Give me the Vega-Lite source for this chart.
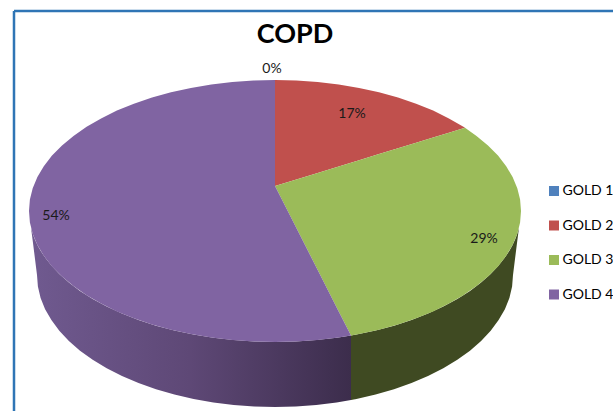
{"$schema":"https://vega.github.io/schema/vega-lite/v6.json","width":613,"height":411,"padding":0,"autosize":{"type":"none"},"background":"#ffffff","view":{"stroke":null},
"title":{"text":"COPD","font":"Lato","fontSize":27,"fontWeight":"bold","color":"#000000","anchor":"middle","frame":"group","offset":0,"baseline":"alphabetic","dy":69.5,"dx":-11.5},
"datasets":{
"frame":[{"x":14,"x2":14,"y":11,"y2":411},{"x":14,"x2":613,"y":11,"y2":11}],
"wallPurple":[{"x":29,"y":211,"y2":211},{"x":31,"y":227.7,"y2":227.7},{"x":33,"y":234.5,"y2":243},{"x":35,"y":239.8,"y2":259},{"x":37,"y":244.1,"y2":275},{"x":37.9,"y":245.9,"y2":286.5},{"x":40.6,"y":250.8,"y2":297.9},{"x":45.1,"y":257.6,"y2":309.2},{"x":51.4,"y":265.5,"y2":320.1},{"x":59.3,"y":274,"y2":330.8},{"x":68.9,"y":282.5,"y2":341},{"x":80,"y":290.9,"y2":350.7},{"x":92.7,"y":298.9,"y2":359.8},{"x":106.7,"y":306.5,"y2":368.3},{"x":122,"y":313.6,"y2":376.1},{"x":138.5,"y":320,"y2":383.1},{"x":156,"y":325.7,"y2":389.3},{"x":174.4,"y":330.5,"y2":394.6},{"x":193.6,"y":334.6,"y2":399},{"x":213.4,"y":337.8,"y2":402.5},{"x":233.7,"y":340.1,"y2":405},{"x":254.2,"y":341.5,"y2":406.5},{"x":275,"y":342,"y2":407},{"x":295.8,"y":341.5,"y2":406.5},{"x":316.3,"y":340.1,"y2":405},{"x":336.6,"y":337.8,"y2":402.5},{"x":351,"y":335.6,"y2":400.1}],
"wallGreen":[{"x":351,"y":335.6,"y2":400.1},{"x":356.4,"y":334.6,"y2":399},{"x":375.6,"y":330.5,"y2":394.6},{"x":394,"y":325.7,"y2":389.3},{"x":411.5,"y":320,"y2":383.1},{"x":428,"y":313.6,"y2":376.1},{"x":443.3,"y":306.5,"y2":368.3},{"x":457.3,"y":298.9,"y2":359.8},{"x":470,"y":290.9,"y2":350.7},{"x":481.1,"y":282.5,"y2":341},{"x":490.7,"y":274,"y2":330.8},{"x":498.6,"y":265.5,"y2":320.1},{"x":504.9,"y":257.6,"y2":309.2},{"x":509.4,"y":250.8,"y2":297.9},{"x":512.1,"y":245.9,"y2":286.5},{"x":513,"y":244.1,"y2":275},{"x":515,"y":239.8,"y2":259},{"x":517,"y":234.5,"y2":243},{"x":519,"y":227.7,"y2":227.7},{"x":521,"y":211,"y2":211}],
"slices":[
{"group":"GOLD 1","x":275,"y":80,"y2":80},
{"group":"GOLD 2","x":275,"y":80,"y2":186},{"group":"GOLD 2","x":296.4,"y":80.5,"y2":179.4},{"group":"GOLD 2","x":317.7,"y":82,"y2":172.9},{"group":"GOLD 2","x":338.7,"y":84.5,"y2":166.5},{"group":"GOLD 2","x":359.1,"y":87.9,"y2":160.2},{"group":"GOLD 2","x":379,"y":92.3,"y2":154.1},{"group":"GOLD 2","x":398,"y":97.6,"y2":148.3},{"group":"GOLD 2","x":416.1,"y":103.7,"y2":142.8},{"group":"GOLD 2","x":433.1,"y":110.6,"y2":137.6},{"group":"GOLD 2","x":448.9,"y":118.4,"y2":132.7},{"group":"GOLD 2","x":463.4,"y":126.8,"y2":128.3},{"group":"GOLD 2","x":465,"y":127.8,"y2":127.8},
{"group":"GOLD 3","x":275,"y":186,"y2":186},{"group":"GOLD 3","x":296.4,"y":179.4,"y2":228.1},{"group":"GOLD 3","x":317.7,"y":172.9,"y2":270},{"group":"GOLD 3","x":338.7,"y":166.5,"y2":311.4},{"group":"GOLD 3","x":351,"y":162.7,"y2":335.6},{"group":"GOLD 3","x":359.1,"y":160.2,"y2":334.1},{"group":"GOLD 3","x":379,"y":154.1,"y2":329.7},{"group":"GOLD 3","x":398,"y":148.3,"y2":324.4},{"group":"GOLD 3","x":416.1,"y":142.8,"y2":318.3},{"group":"GOLD 3","x":433.1,"y":137.6,"y2":311.4},{"group":"GOLD 3","x":448.9,"y":132.7,"y2":303.6},{"group":"GOLD 3","x":463.4,"y":128.3,"y2":295.2},{"group":"GOLD 3","x":465,"y":127.8,"y2":294},{"group":"GOLD 3","x":476.5,"y":135.9,"y2":286.1},{"group":"GOLD 3","x":488,"y":145.5,"y2":276.5},{"group":"GOLD 3","x":498,"y":155.6,"y2":266.4},{"group":"GOLD 3","x":506.2,"y":166.2,"y2":255.8},{"group":"GOLD 3","x":512.6,"y":177.1,"y2":244.9},{"group":"GOLD 3","x":517.3,"y":188.3,"y2":233.7},{"group":"GOLD 3","x":520.1,"y":199.6,"y2":222.4},{"group":"GOLD 3","x":521,"y":211,"y2":211},
{"group":"GOLD 4","x":29,"y":211,"y2":211},{"group":"GOLD 4","x":29.9,"y":199.6,"y2":222.4},{"group":"GOLD 4","x":32.7,"y":188.3,"y2":233.7},{"group":"GOLD 4","x":37.4,"y":177.1,"y2":244.9},{"group":"GOLD 4","x":43.8,"y":166.2,"y2":255.8},{"group":"GOLD 4","x":52,"y":155.6,"y2":266.4},{"group":"GOLD 4","x":62,"y":145.5,"y2":276.5},{"group":"GOLD 4","x":73.5,"y":135.9,"y2":286.1},{"group":"GOLD 4","x":86.6,"y":126.8,"y2":295.2},{"group":"GOLD 4","x":101.1,"y":118.4,"y2":303.6},{"group":"GOLD 4","x":116.9,"y":110.6,"y2":311.4},{"group":"GOLD 4","x":133.9,"y":103.7,"y2":318.3},{"group":"GOLD 4","x":152,"y":97.6,"y2":324.4},{"group":"GOLD 4","x":171,"y":92.3,"y2":329.7},{"group":"GOLD 4","x":190.9,"y":87.9,"y2":334.1},{"group":"GOLD 4","x":211.3,"y":84.5,"y2":337.5},{"group":"GOLD 4","x":232.3,"y":82,"y2":340},{"group":"GOLD 4","x":253.6,"y":80.5,"y2":341.5},{"group":"GOLD 4","x":275,"y":80,"y2":342},{"group":"GOLD 4","x":275.01,"y":186,"y2":342},{"group":"GOLD 4","x":296.4,"y":228.1,"y2":341.5},{"group":"GOLD 4","x":317.7,"y":270,"y2":340},{"group":"GOLD 4","x":338.7,"y":311.4,"y2":337.5},{"group":"GOLD 4","x":351,"y":335.6,"y2":335.6}],
"shares":[{"group":"GOLD 1","share":0,"x":272,"y":69},{"group":"GOLD 2","share":0.17,"x":352,"y":114},{"group":"GOLD 3","share":0.29,"x":484,"y":239},{"group":"GOLD 4","share":0.54,"x":56,"y":216}]
},
"encoding":{
"x":{"field":"x","type":"quantitative","scale":{"domain":[0,613],"nice":false,"zero":false},"axis":null},
"y":{"field":"y","type":"quantitative","scale":{"domain":[411,0],"nice":false,"zero":false},"axis":null,"stack":null}
},
"layer":[
{"data":{"name":"frame"},"mark":{"type":"rule","color":"#2F75B5","strokeWidth":2.5},"encoding":{"x2":{"field":"x2"},"y2":{"field":"y2"}}},
{"data":{"name":"wallPurple"},"mark":{"type":"area","orient":"vertical","color":{"gradient":"linear","x1":0,"y1":0,"x2":1,"y2":0,"stops":[{"offset":0,"color":"#705A90"},{"offset":0.5,"color":"#5E4876"},{"offset":1,"color":"#3C2D4C"}]}},"encoding":{"y2":{"field":"y2"}}},
{"data":{"name":"wallGreen"},"mark":{"type":"area","orient":"vertical","color":"#3F4A22"},"encoding":{"y2":{"field":"y2"}}},
{"data":{"name":"slices"},"mark":{"type":"area","orient":"vertical"},"encoding":{"y2":{"field":"y2"},
"color":{"field":"group","type":"nominal","scale":{"domain":["GOLD 1","GOLD 2","GOLD 3","GOLD 4"],"range":["#4F81BD","#C0504D","#9BBB59","#8064A2"]},
"legend":{"title":null,"orient":"none","legendX":547,"legendY":184,"symbolType":"square","symbolSize":100,"symbolStrokeWidth":0,"labelFont":"Lato","labelFontSize":14,"labelColor":"#000000","labelLimit":200,"rowPadding":20.5,"labelOffset":1.5}}}},
{"data":{"name":"shares"},"mark":{"type":"text","font":"Lato","fontSize":14,"color":"#1a1a1a","baseline":"middle","align":"center"},"encoding":{"text":{"field":"share","type":"quantitative","format":".0%"}}}
]}
